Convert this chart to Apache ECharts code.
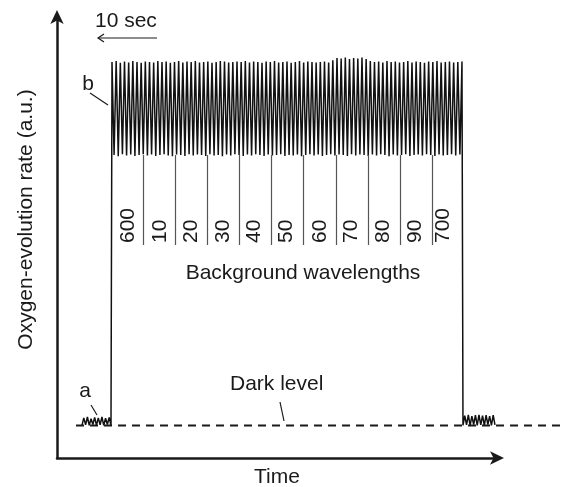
<!DOCTYPE html>
<html>
<head>
<meta charset="utf-8">
<script src="https://cdn.jsdelivr.net/npm/echarts@6/dist/echarts.min.js"></script>
<style>
  html, body { margin: 0; padding: 0; background: #fff; }
  #chart { width: 565px; height: 487px; }
</style>
</head>
<body>
<div id="chart"></div>
<script>
// time in seconds, rate in a.u.
var darkLevel = 7.37
var darkBeforeSpan = [4.2, 9.08]
var darkBefore = [7.4, 9.1, 7.5, 9.3, 7.4, 8.9, 7.6, 9.2, 7.4, 9.1, 7.5, 9.3, 7.4, 9.0, 7.6, 9.2, 7.4]
var blockSpan = [9.25, 68.11]
var peaks = [89.8, 90.0, 89.6, 89.9, 89.7, 90.0, 89.8, 89.6, 89.9, 89.8,
             89.7, 90.0, 89.8, 89.9, 89.6, 89.8, 90.0, 89.7, 89.9, 89.8,
             90.0, 89.7, 89.8, 89.9, 89.6, 89.8, 90.0, 89.9, 89.7, 89.8,
             89.9, 89.8, 90.0, 89.7, 89.9, 89.8, 89.6, 89.9, 89.8, 90.0,
             89.7, 89.8, 89.9, 89.6, 89.8, 90.0, 89.7, 89.9, 89.8, 89.7,
             89.8, 89.9, 89.7, 90.2, 90.7, 90.6, 90.8, 90.5, 90.7, 90.6,
             90.8, 90.5, 90.0, 89.8, 89.9, 89.7, 90.0, 89.8, 89.9, 89.7,
             89.8, 90.0, 89.7, 89.9, 89.8, 89.6, 89.9, 89.8, 90.0, 89.7,
             89.8, 89.9, 89.7, 89.8, 89.9]
var troughs = [68.7, 68.4, 68.9, 68.6, 68.8, 68.5, 68.7, 68.9, 68.6, 68.8,
               68.5, 68.7, 68.9, 68.6, 68.4, 68.8, 68.7, 68.5, 68.9, 68.6,
               68.8, 68.7, 68.5, 68.9, 68.6, 68.7, 68.4, 68.8, 68.6, 68.9,
               68.7, 68.5, 68.8, 68.6, 68.9, 68.7, 68.5, 68.8, 68.6, 68.7,
               68.9, 68.5, 68.7, 68.6, 68.8, 68.4, 68.7, 68.9, 68.6, 68.8,
               68.5, 68.7, 68.9, 68.6, 68.8, 68.7, 68.5, 68.9, 68.6, 68.8,
               68.7, 68.5, 68.8, 68.6, 68.9, 68.7, 68.4, 68.8, 68.6, 68.7,
               68.9, 68.5, 68.7, 68.8, 68.6, 68.9, 68.7, 68.5, 68.8, 68.6,
               68.7, 68.9, 68.6, 68.8]
var darkAfterSpan = [68.28, 73.66]
var darkAfter = [7.4, 9.6, 7.5, 9.8, 7.4, 9.5, 7.6, 9.7, 7.4, 9.8, 7.5, 9.6, 7.4, 9.7, 7.6, 9.5, 7.4, 9.7, 7.5]
var dashSpan = [3.2, 84.6]

// background wavelength steps
var wlDividers = [14.46, 19.85, 25.23, 30.61, 35.99, 41.37, 46.92, 52.30, 57.69, 63.07]
var wlDividerRange = [48.3, 68.7]
var wlLabels = ['600', '10', '20', '30', '40', '50', '60', '70', '80', '90', '700']
var wlLabelTimes = [11.99, 17.32, 22.65, 27.97, 33.13, 38.63, 44.23, 49.56, 54.88, 60.21, 64.97]
var wlLabelBase = 48.75

var FONT = 'Liberation Sans, Arial, Helvetica, sans-serif'
var INK = '#1a1a1a'

function spread(values, span) {
    var step = (span[1] - span[0]) / (values.length - 1)
    return values.map(function (v, i) { return [span[0] + i * step, v] })
}

var trace = spread(darkBefore, darkBeforeSpan)
var half = (blockSpan[1] - blockSpan[0]) / (peaks.length + troughs.length - 1)
for (var i = 0; i < peaks.length; i++) {
    trace.push([blockSpan[0] + 2 * i * half, peaks[i]])
    if (i < troughs.length) trace.push([blockSpan[0] + (2 * i + 1) * half, troughs[i]])
}
trace = trace.concat(spread(darkAfter, darkAfterSpan))

var chart = echarts.init(document.getElementById('chart'))

var hiddenAxis = {
    axisLine: { show: false }, axisTick: { show: false },
    axisLabel: { show: false }, splitLine: { show: false }
}

var option = {
    backgroundColor: '#fff',
    animation: false,
    grid: [
        { left: 57, top: 17, right: 68, bottom: 29, containLabel: false, outerBoundsMode: 'none' },
        // same scale, wider, so the dark level runs past the time axis
        { left: 57, top: 17, right: 5, bottom: 29, containLabel: false, outerBoundsMode: 'none' }
    ],
    xAxis: [{
        type: 'value', min: 0, max: 74, gridIndex: 0,
        name: 'Time', nameLocation: 'middle', nameGap: 9,
        nameTextStyle: { fontFamily: FONT, fontSize: 21, color: INK },
        axisLine: { show: true, symbol: ['none', 'arrow'], symbolSize: [10, 14], symbolOffset: [0, 7],
                    lineStyle: { color: INK, width: 2.5 } },
        axisTick: { show: false }, axisLabel: { show: false }, splitLine: { show: false }
    }, Object.assign({ type: 'value', min: 0, max: 84.6, gridIndex: 1 }, hiddenAxis)],
    yAxis: [{
        type: 'value', min: 0, max: 100, gridIndex: 0,
        name: 'Oxygen-evolution rate (a.u.)', nameLocation: 'middle', nameGap: 20,
        nameTextStyle: { fontFamily: FONT, fontSize: 21, color: INK, padding: [0, 0, 0, 36] },
        axisLine: { show: true, symbol: ['none', 'arrow'], symbolSize: [10, 14], symbolOffset: [0, 7],
                    lineStyle: { color: INK, width: 2.5 } },
        axisTick: { show: false }, axisLabel: { show: false }, splitLine: { show: false }
    }, Object.assign({ type: 'value', min: 0, max: 100, gridIndex: 1 }, hiddenAxis)],
    series: [
        {
            // dark level
            type: 'line',
            xAxisIndex: 1, yAxisIndex: 1,
            data: [[dashSpan[0], darkLevel], [dashSpan[1], darkLevel]],
            symbol: 'none',
            silent: true,
            lineStyle: { color: INK, width: 2, type: [8, 6] }
        },
        {
            type: 'line',
            data: trace,
            symbol: 'none',
            silent: true,
            lineStyle: { color: '#111', width: 1.5 },
            markLine: {
                silent: true,
                symbol: 'none',
                label: { show: false },
                lineStyle: { color: '#555', width: 1.2, type: 'solid' },
                data: wlDividers.map(function (t) {
                    return [{ coord: [t, wlDividerRange[0]] }, { coord: [t, wlDividerRange[1]] }]
                })
            }
        },
        {
            type: 'custom',
            silent: true,
            data: wlLabelTimes.map(function (t) { return [t, wlLabelBase] }),
            renderItem: function (params, api) {
                var p = api.coord([api.value(0), api.value(1)])
                return {
                    type: 'text',
                    x: p[0], y: p[1],
                    rotation: Math.PI / 2,
                    style: {
                        text: wlLabels[params.dataIndex],
                        fontFamily: FONT, fontSize: 21, fill: INK,
                        align: 'left', verticalAlign: 'middle'
                    }
                }
            }
        }
    ],
    graphic: [
        { type: 'text', style: { text: 'Background wavelengths', x: 303, y: 273, fontFamily: FONT, fontSize: 21, fill: INK, align: 'center', verticalAlign: 'middle' } },
        { type: 'text', style: { text: '10 sec', x: 95, y: 21, fontFamily: FONT, fontSize: 21, fill: INK, align: 'left', verticalAlign: 'middle' } },
        { type: 'line', shape: { x1: 157, y1: 38, x2: 98, y2: 38 }, style: { stroke: INK, lineWidth: 1.2 } },
        { type: 'polyline', shape: { points: [[104, 34], [98, 38], [104, 42]] }, style: { stroke: INK, lineWidth: 1.2, fill: null } },
        { type: 'text', style: { text: 'b', x: 88, y: 84, fontFamily: FONT, fontSize: 21, fill: INK, align: 'center', verticalAlign: 'middle' } },
        { type: 'line', shape: { x1: 90, y1: 93, x2: 108, y2: 105 }, style: { stroke: INK, lineWidth: 1.2 } },
        { type: 'text', style: { text: 'a', x: 85, y: 391, fontFamily: FONT, fontSize: 21, fill: INK, align: 'center', verticalAlign: 'middle' } },
        { type: 'line', shape: { x1: 91, y1: 405, x2: 97, y2: 415 }, style: { stroke: INK, lineWidth: 1.2 } },
        { type: 'text', style: { text: 'Dark level', x: 230, y: 384, fontFamily: FONT, fontSize: 21, fill: INK, align: 'left', verticalAlign: 'middle' } },
        { type: 'line', shape: { x1: 280, y1: 402, x2: 284, y2: 421 }, style: { stroke: INK, lineWidth: 1.2 } }
    ]
}

chart.setOption(option)
</script>
</body>
</html>
